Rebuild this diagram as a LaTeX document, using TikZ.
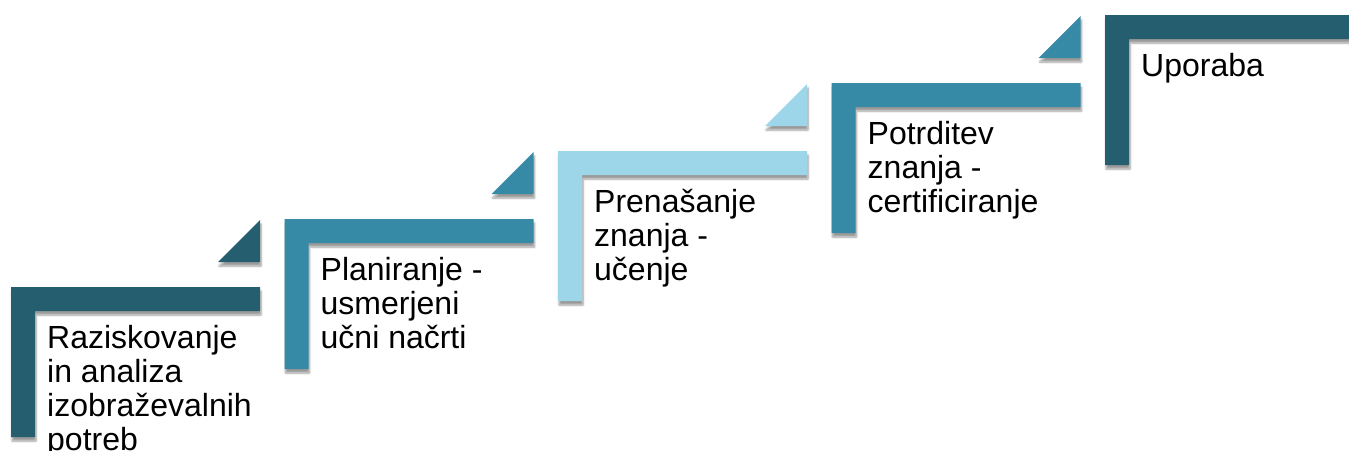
\documentclass[tikz,border=0pt]{standalone}
\usepackage{fontspec}
\setmainfont{Liberation Sans}
\usetikzlibrary{shadows.blur}
\definecolor{stepdark}{HTML}{255E6F}
\definecolor{stepmid}{HTML}{378AA5}
\definecolor{steplight}{HTML}{9DD6E8}
\begin{document}
\begin{tikzpicture}[x=1pt, y=-1pt,
  stepbar/.style={fill=#1, draw=none, blur shadow={shadow xshift=1pt, shadow yshift=-4pt, shadow blur steps=6, shadow opacity=40}},
  steptext/.style={anchor=north west, align=left, inner sep=0pt, font=\fontsize{32}{34}\selectfont}]
\useasboundingbox (0,0) rectangle (1349,450);
\clip (0,0) rectangle (1349,450);
\def\w{249}
\def\t{24}
\def\h{150}
\def\tri{42}

% step 1
\def\xa{11} \def\ya{287}
\path [stepbar=stepdark] (\xa,\ya) -- ++(\w,0) -- ++(0,\t) -- ++(-\w+\t,0) -- ++(0,\h-\t) -- ++(-\t,0) -- cycle;
\path [stepbar=stepdark] (\xa+\w,\ya-25) -- ++(-\tri,0) -- ++(\tri,-\tri) -- cycle;
\node[steptext] (raziskovanje) at (\xa+36,\ya+38) {Raziskovanje\\in analiza\\izobraževalnih\\potreb};

% step 2
\def\xb{284.5} \def\yb{219}
\path [stepbar=stepmid] (\xb,\yb) -- ++(\w,0) -- ++(0,\t) -- ++(-\w+\t,0) -- ++(0,\h-\t) -- ++(-\t,0) -- cycle;
\path [stepbar=stepmid] (\xb+\w,\yb-25) -- ++(-\tri,0) -- ++(\tri,-\tri) -- cycle;
\node[steptext] (planiranje) at (\xb+36,\yb+38) {Planiranje -\\usmerjeni\\učni načrti};

% step 3
\def\xc{558} \def\yc{151}
\path [stepbar=steplight] (\xc,\yc) -- ++(\w,0) -- ++(0,\t) -- ++(-\w+\t,0) -- ++(0,\h-\t) -- ++(-\t,0) -- cycle;
\path [stepbar=steplight] (\xc+\w,\yc-25) -- ++(-\tri,0) -- ++(\tri,-\tri) -- cycle;
\node[steptext] (prenasanje) at (\xc+36,\yc+38) {Prenašanje\\znanja -\\učenje};

% step 4
\def\xd{831.5} \def\yd{83}
\path [stepbar=stepmid] (\xd,\yd) -- ++(\w,0) -- ++(0,\t) -- ++(-\w+\t,0) -- ++(0,\h-\t) -- ++(-\t,0) -- cycle;
\path [stepbar=stepmid] (\xd+\w,\yd-25) -- ++(-\tri,0) -- ++(\tri,-\tri) -- cycle;
\node[steptext] (potrditev) at (\xd+36,\yd+38) {Potrditev\\znanja -\\certificiranje};

% step 5
\def\xe{1105} \def\ye{15}
\path [stepbar=stepdark] (\xe,\ye) -- ++(\w,0) -- ++(0,\t) -- ++(-\w+\t,0) -- ++(0,\h-\t) -- ++(-\t,0) -- cycle;
\node[steptext] (uporaba) at (\xe+36,\ye+38) {Uporaba};
\end{tikzpicture}
\end{document}
